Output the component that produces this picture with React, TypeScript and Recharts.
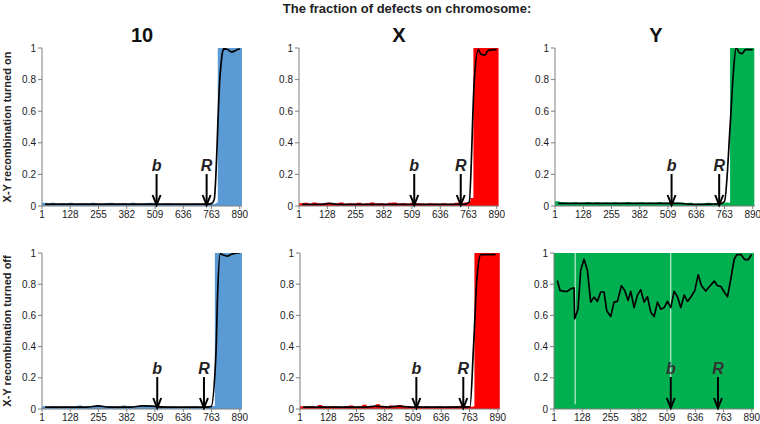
import React from "react";
import {
  ComposedChart,
  Area,
  Line,
  XAxis,
  YAxis,
  ReferenceDot,
} from "recharts";

// ---------- shared axes ----------
const TICKS_X = [1, 128, 255, 382, 509, 636, 763, 890];
const TICKS_Y = [0, 0.2, 0.4, 0.6, 0.8, 1];
const X_DOMAIN = [1, 900];

// ---------- colours ----------
const BLUE = "#5b9bd5";
const RED = "#ff0000";
const GREEN = "#00b050";

// ---------- low-level defect fraction (positions 1..761, step 20) ----------
const NOISE_X = [1, 21, 41, 61, 81, 101, 121, 141, 161, 181, 201, 221, 241, 261, 281, 301, 321, 341, 361, 381, 401, 421, 441, 461, 481, 501, 521, 541, 561, 581, 601, 621, 641, 661, 681, 701, 721, 741, 761];

// top row: recombination on
const FILL_10_ON = [0.02, 0.015, 0.02, 0.012, 0.018, 0.015, 0.02, 0.012, 0.016, 0.018, 0.014, 0.02, 0.015, 0.012, 0.018, 0.02, 0.014, 0.016, 0.018, 0.012, 0.02, 0.015, 0.013, 0.017, 0.02, 0.014, 0.012, 0.016, 0.018, 0.013, 0.015, 0.012, 0.01, 0.014, 0.016, 0.012, 0.015, 0.018, 0.013];
const TAIL_X_10_ON = [781, 791, 900];
const TAIL_Y_10_ON = [0.02, 1, 1];
const LINE_X_10_ON = [15, 100, 200, 300, 400, 500, 600, 700, 750, 762, 775, 801, 812, 818, 836, 851, 866, 880, 890];
const LINE_Y_10_ON = [0.012, 0.012, 0.012, 0.012, 0.012, 0.012, 0.012, 0.012, 0.012, 0.015, 0.04, 0.82, 0.97, 0.995, 0.99, 0.975, 0.98, 0.99, 0.995];

const FILL_X_ON = [0.018, 0.02, 0.016, 0.022, 0.018, 0.015, 0.02, 0.016, 0.018, 0.022, 0.015, 0.018, 0.016, 0.02, 0.015, 0.018, 0.022, 0.016, 0.018, 0.015, 0.02, 0.022, 0.016, 0.018, 0.015, 0.02, 0.018, 0.016, 0.015, 0.018, 0.016, 0.014, 0.018, 0.015, 0.016, 0.02, 0.018, 0.022, 0.025];
const TAIL_X_X_ON = [771, 785, 898];
const TAIL_Y_X_ON = [0.05, 1, 1];
const LINE_X_X_ON = [15, 100, 140, 170, 250, 350, 450, 550, 650, 740, 766, 789, 807, 819, 837, 852, 879, 890];
const LINE_Y_X_ON = [0.01, 0.01, 0.016, 0.01, 0.01, 0.01, 0.01, 0.01, 0.01, 0.01, 0.025, 0.8, 0.99, 0.96, 0.955, 0.985, 0.99, 0.99];

const FILL_Y_ON = [0.03, 0.025, 0.022, 0.02, 0.024, 0.02, 0.022, 0.025, 0.02, 0.024, 0.02, 0.022, 0.02, 0.024, 0.02, 0.022, 0.025, 0.02, 0.022, 0.024, 0.02, 0.022, 0.02, 0.025, 0.02, 0.022, 0.024, 0.02, 0.022, 0.018, 0.02, 0.015, 0.016, 0.018, 0.02, 0.016, 0.018, 0.02, 0.022];
const TAIL_X_Y_ON = [781, 788, 897];
const TAIL_Y_Y_ON = [0.02, 1, 1];
const LINE_X_Y_ON = [15, 100, 200, 300, 400, 500, 560, 600, 650, 700, 745, 763, 790, 803, 815, 830, 842, 858, 890];
const LINE_Y_Y_ON = [0.017, 0.017, 0.017, 0.017, 0.017, 0.017, 0.017, 0.012, 0.01, 0.012, 0.015, 0.03, 0.55, 0.85, 1.0, 0.97, 0.965, 0.99, 0.99];

// bottom row: recombination off
const FILL_10_OFF = [0.018, 0.015, 0.02, 0.016, 0.018, 0.02, 0.015, 0.018, 0.022, 0.016, 0.02, 0.018, 0.024, 0.016, 0.02, 0.018, 0.016, 0.02, 0.022, 0.018, 0.016, 0.02, 0.018, 0.024, 0.016, 0.015, 0.018, 0.02, 0.016, 0.018, 0.015, 0.012, 0.016, 0.014, 0.018, 0.015, 0.016, 0.018, 0.02];
const TAIL_X_10_OFF = [771, 778, 900];
const TAIL_Y_10_OFF = [0.02, 1, 1];
const LINE_X_10_OFF = [15, 100, 200, 255, 300, 400, 450, 500, 550, 650, 740, 761, 783, 790, 802, 820, 835, 850, 879, 890];
const LINE_Y_10_OFF = [0.012, 0.012, 0.012, 0.02, 0.012, 0.012, 0.02, 0.018, 0.012, 0.012, 0.012, 0.015, 0.36, 0.72, 0.995, 0.985, 0.98, 0.99, 1.0, 1.0];

const FILL_X_OFF = [0.018, 0.016, 0.02, 0.015, 0.025, 0.018, 0.016, 0.02, 0.018, 0.015, 0.02, 0.022, 0.016, 0.018, 0.028, 0.02, 0.016, 0.03, 0.018, 0.016, 0.022, 0.018, 0.025, 0.016, 0.018, 0.015, 0.02, 0.016, 0.018, 0.015, 0.016, 0.018, 0.015, 0.016, 0.018, 0.02, 0.022, 0.018, 0.015];
const TAIL_X_X_OFF = [781, 785, 899];
const TAIL_Y_X_OFF = [0.02, 1, 1];
const LINE_X_X_OFF = [15, 100, 200, 300, 340, 400, 440, 500, 600, 700, 765, 781, 796, 814, 880];
const LINE_Y_X_OFF = [0.012, 0.012, 0.012, 0.012, 0.018, 0.012, 0.018, 0.012, 0.012, 0.012, 0.013, 0.4, 0.83, 0.99, 0.99];

const FILL_X_Y_OFF = [1, 94, 98, 524, 528, 900];
const FILL_Y_Y_OFF = [1, 0.03, 1, 0.03, 1, 1];
const LINE_X_Y_OFF = [16, 28, 46, 61, 76, 91, 94, 109, 121, 136, 151, 166, 181, 196, 211, 226, 238, 256, 271, 286, 304, 319, 334, 346, 361, 376, 391, 406, 421, 436, 451, 466, 481, 496, 511, 526, 541, 556, 571, 586, 601, 616, 634, 649, 664, 683, 703, 721, 736, 751, 766, 781, 796, 811, 823, 841, 859, 874, 889];
const LINE_Y_Y_OFF = [0.824, 0.76, 0.754, 0.754, 0.77, 0.777, 0.578, 0.64, 0.89, 0.96, 0.89, 0.685, 0.717, 0.69, 0.75, 0.75, 0.63, 0.593, 0.685, 0.69, 0.79, 0.76, 0.696, 0.754, 0.65, 0.73, 0.764, 0.685, 0.72, 0.62, 0.593, 0.685, 0.64, 0.65, 0.69, 0.65, 0.754, 0.72, 0.65, 0.73, 0.69, 0.717, 0.76, 0.86, 0.79, 0.756, 0.79, 0.82, 0.79, 0.786, 0.75, 0.72, 0.835, 0.96, 0.99, 0.99, 0.957, 0.957, 0.99];

// arrow positions (b, R) per panel
const ARROWS_10_ON = [516, 741];
const ARROWS_X_ON = [519, 728];
const ARROWS_Y_ON = [525, 739];
const ARROWS_10_OFF = [519, 729];
const ARROWS_X_OFF = [524, 735];
const ARROWS_Y_OFF = [526, 738];
const ARROW_NAMES = ["b", "R"];

const FONT = "'Liberation Sans', Arial, Helvetica, sans-serif";

function zip(xs: number[], ys: number[]) {
  const n = Math.min(xs.length, ys.length);
  const out: { x: number; y: number }[] = [];
  for (let i = 0; i < n; i++) out.push({ x: xs[i], y: ys[i] });
  return out;
}

type PanelProps = {
  left: number;
  top: number;
  plotH: number;
  fill: { x: number; y: number }[];
  line: { x: number; y: number }[];
  color: string;
  arrows: number[];
  labelColor: string;
  lineType?: "monotone" | "linear";
};

const Y_AXIS_W = 34;
const M_TOP = 6;
const M_RIGHT = 6;
const X_AXIS_H = 22;
const PLOT_W = 200;

function Arrow(props: any) {
  const { cx, cy, name, labelColor } = props;
  if (cx == null || cy == null) return null;
  const topY = cy - 32;
  return (
    <g>
      <line x1={cx} y1={topY} x2={cx} y2={cy - 1} stroke="#000" strokeWidth={2} />
      <polyline
        points={`${cx - 4},${cy - 11} ${cx},${cy - 1} ${cx + 4},${cy - 11}`}
        fill="none"
        stroke="#000"
        strokeWidth={2}
      />
      <text
        x={cx}
        y={topY - 3}
        textAnchor="middle"
        fontFamily={FONT}
        fontSize={16}
        fontWeight="bold"
        fontStyle="italic"
        fill={labelColor}
      >
        {name}
      </text>
    </g>
  );
}

function Panel({ left, top, plotH, fill, line, color, arrows, labelColor, lineType = "monotone" }: PanelProps) {
  const width = Y_AXIS_W + PLOT_W + M_RIGHT;
  const height = M_TOP + plotH + X_AXIS_H;
  return (
    <div style={{ position: "absolute", left: left - Y_AXIS_W, top: top - M_TOP, width, height }}>
      <ComposedChart
        width={width}
        height={height}
        margin={{ top: M_TOP, right: M_RIGHT, left: 0, bottom: 0 }}
      >
        <XAxis
          type="number"
          dataKey="x"
          domain={X_DOMAIN}
          ticks={TICKS_X}
          interval={0}
          allowDataOverflow
          height={X_AXIS_H}
          tickSize={3}
          tickMargin={2}
          stroke="#7f7f7f"
          tick={{ fill: "#1a1a1a", fontSize: 10, fontFamily: FONT }}
        />
        <YAxis
          type="number"
          domain={[0, 1]}
          ticks={TICKS_Y}
          width={Y_AXIS_W}
          tickSize={4}
          tickMargin={2}
          stroke="#7f7f7f"
          allowDataOverflow
          tickFormatter={(v: number) => String(Math.round(v * 10) / 10)}
          tick={{ fill: "#1a1a1a", fontSize: 10, fontFamily: FONT }}
        />
        <Area
          data={fill}
          dataKey="y"
          type="stepAfter"
          stroke="none"
          fill={color}
          fillOpacity={1}
          isAnimationActive={false}
          dot={false}
          activeDot={false}
        />
        <Line
          data={line}
          dataKey="y"
          type={lineType}
          stroke="#000"
          strokeWidth={1.7}
          strokeLinejoin="round"
          dot={false}
          activeDot={false}
          isAnimationActive={false}
        />
        {arrows.map((ax, i) => (
          <ReferenceDot
            key={i}
            x={ax}
            y={0}
            ifOverflow="visible"
            shape={(p: any) => <Arrow {...p} name={ARROW_NAMES[i]} labelColor={labelColor} />}
          />
        ))}
      </ComposedChart>
    </div>
  );
}

export default function App() {
  const noise = (vals: number[], tx: number[], ty: number[]) =>
    zip(NOISE_X, vals).concat(zip(tx, ty));

  return (
    <div style={{ position: "absolute", left: 0, top: 0, width: 760, height: 424, background: "#fff", overflow: "hidden" }}>
      <svg width={760} height={424} style={{ position: "absolute", left: 0, top: 0 }}>
        <text x={407} y={13} textAnchor="middle" fontFamily={FONT} fontSize={13} fontWeight="bold" fill="#222">
          The fraction of defects on chromosome:
        </text>
        <text x={142} y={42} textAnchor="middle" fontFamily={FONT} fontSize={20} fontWeight="bold" fill="#111">10</text>
        <text x={399} y={42} textAnchor="middle" fontFamily={FONT} fontSize={20} fontWeight="bold" fill="#111">X</text>
        <text x={656} y={42} textAnchor="middle" fontFamily={FONT} fontSize={20} fontWeight="bold" fill="#111">Y</text>
        <text
          transform="translate(11,127) rotate(-90)"
          textAnchor="middle"
          fontFamily={FONT}
          fontSize={11}
          fontWeight="bold"
          fill="#222"
        >
          X-Y recombination turned on
        </text>
        <text
          transform="translate(11,331) rotate(-90)"
          textAnchor="middle"
          fontFamily={FONT}
          fontSize={11}
          fontWeight="bold"
          fill="#222"
        >
          X-Y recombination turned off
        </text>
      </svg>

      <Panel left={42} top={48} plotH={158}
        fill={noise(FILL_10_ON, TAIL_X_10_ON, TAIL_Y_10_ON)}
        line={zip(LINE_X_10_ON, LINE_Y_10_ON)}
        color={BLUE} arrows={ARROWS_10_ON} labelColor="#222" />
      <Panel left={299} top={48} plotH={158}
        fill={noise(FILL_X_ON, TAIL_X_X_ON, TAIL_Y_X_ON)}
        line={zip(LINE_X_X_ON, LINE_Y_X_ON)}
        color={RED} arrows={ARROWS_X_ON} labelColor="#222" />
      <Panel left={555} top={48} plotH={158}
        fill={noise(FILL_Y_ON, TAIL_X_Y_ON, TAIL_Y_Y_ON)}
        line={zip(LINE_X_Y_ON, LINE_Y_Y_ON)}
        color={GREEN} arrows={ARROWS_Y_ON} labelColor="#222" />

      <Panel left={42} top={253} plotH={156}
        fill={noise(FILL_10_OFF, TAIL_X_10_OFF, TAIL_Y_10_OFF)}
        line={zip(LINE_X_10_OFF, LINE_Y_10_OFF)}
        color={BLUE} arrows={ARROWS_10_OFF} labelColor="#222" />
      <Panel left={300} top={253} plotH={156}
        fill={noise(FILL_X_OFF, TAIL_X_X_OFF, TAIL_Y_X_OFF)}
        line={zip(LINE_X_X_OFF, LINE_Y_X_OFF)}
        color={RED} arrows={ARROWS_X_OFF} labelColor="#222" />
      <Panel left={554} top={253} plotH={156}
        fill={zip(FILL_X_Y_OFF, FILL_Y_Y_OFF)}
        line={zip(LINE_X_Y_OFF, LINE_Y_Y_OFF)}
        color={GREEN} arrows={ARROWS_Y_OFF} labelColor="#333" lineType="linear" />
    </div>
  );
}
